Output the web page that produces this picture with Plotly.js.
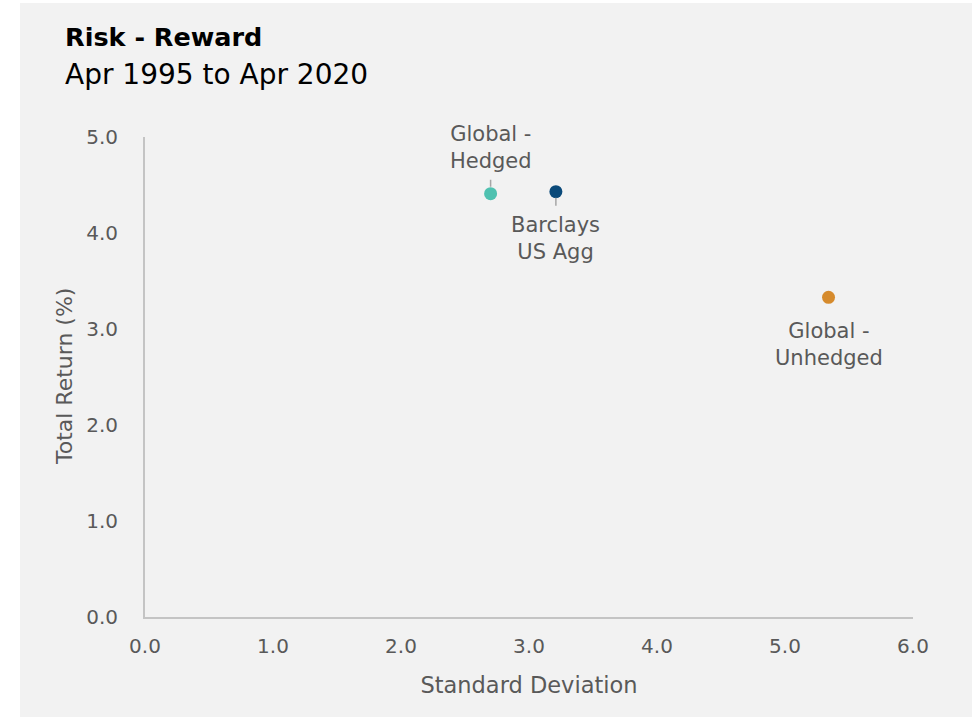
<!DOCTYPE html>
<html>
<head>
<meta charset="utf-8">
<script src="https://cdn.plot.ly/plotly-3.0.1.min.js"></script>
<style>
  html, body { margin: 0; padding: 0; background: #ffffff; }
  #chart { position: absolute; left: 20px; top: 3px; width: 952px; height: 714px; }
</style>
</head>
<body>
<div id="chart"></div>
<script>
// ---- Data ----
const seriesNames = ["Global - Hedged", "Barclays US Agg", "Global - Unhedged"];
const labelText = ["Global -<br>Hedged", "Barclays<br>US Agg", "Global -<br>Unhedged"];
const stdDev = [2.70, 3.21, 5.34];
const totalReturn = [4.41, 4.43, 3.33];
const colors = ["#4fc1b0", "#0b4a7a", "#d68b2d"];
const xTicks = [0, 1, 2, 3, 4, 5, 6];
const yTicks = [0, 1, 2, 3, 4, 5];

const FONT = "'DejaVu Sans', sans-serif";
const TXT = "#595959";

const traces = seriesNames.map((n, i) => ({
  type: "scatter",
  mode: "markers",
  name: n,
  x: [stdDev[i]],
  y: [totalReturn[i]],
  marker: { color: colors[i], size: 13 },
  hoverinfo: "name+x+y"
}));

const ann = [];
// Title & subtitle
ann.push({ xref: "paper", yref: "paper", x: -82/768, y: 1 + 83/480, xanchor: "left", yanchor: "bottom",
  text: "<b>Risk - Reward</b>", showarrow: false, font: { family: FONT, size: 25.5, color: "#000000" } });
ann.push({ xref: "paper", yref: "paper", x: -82/768, y: 1 + 44/480, xanchor: "left", yanchor: "bottom",
  text: "Apr 1995 to Apr 2020", showarrow: false, font: { family: FONT, size: 28, color: "#000000" } });

// Y axis title
ann.push({ xref: "paper", yref: "paper", x: -81/768, y: 0.5, xanchor: "center", yanchor: "middle",
  textangle: -90, text: "Total Return (%)", showarrow: false,
  font: { family: FONT, size: 22, color: TXT } });

// Point labels
ann.push({ x: stdDev[0], y: totalReturn[0], text: labelText[0], showarrow: true, arrowhead: 0,
  arrowcolor: "#a6a6a6", arrowwidth: 1.5, ax: 0, ay: -14, standoff: 7, borderpad: 6,
  xanchor: "center", yanchor: "bottom",
  font: { family: FONT, size: 21, color: TXT } });
ann.push({ x: stdDev[1], y: totalReturn[1], text: labelText[1], showarrow: true, arrowhead: 0,
  arrowcolor: "#a6a6a6", arrowwidth: 1.5, ax: 0, ay: 14, standoff: 6, borderpad: 6,
  xanchor: "center", yanchor: "top",
  font: { family: FONT, size: 21, color: TXT } });
ann.push({ x: stdDev[2], y: totalReturn[2], text: labelText[2], showarrow: false,
  xanchor: "center", yanchor: "top", yshift: -20,
  font: { family: FONT, size: 21, color: TXT } });

const layout = {
  width: 952, height: 714,
  paper_bgcolor: "#f2f2f2", plot_bgcolor: "#f2f2f2",
  margin: { l: 125, r: 59, t: 134, b: 100 },
  showlegend: false,
  font: { family: FONT, color: TXT, size: 20 },
  xaxis: {
    range: [0, 6], tickvals: xTicks, ticktext: xTicks.map(v => v.toFixed(1)),
    showgrid: false, zeroline: false, showline: true, linecolor: "#c4c4c4", linewidth: 2,
    ticks: "", ticklabelstandoff: 10,
    tickfont: { family: FONT, size: 20, color: TXT },
    title: { text: "Standard Deviation", font: { family: FONT, size: 22.5, color: TXT }, standoff: 20 }
  },
  yaxis: {
    range: [0, 5], tickvals: yTicks, ticktext: yTicks.map(v => v.toFixed(1)),
    showgrid: false, zeroline: false, showline: true, linecolor: "#c4c4c4", linewidth: 2,
    ticks: "", ticklabelstandoff: 21,
    tickfont: { family: FONT, size: 20, color: TXT }
  },
  annotations: ann
};

Plotly.newPlot("chart", traces, layout, { displayModeBar: false });
</script>
</body>
</html>
